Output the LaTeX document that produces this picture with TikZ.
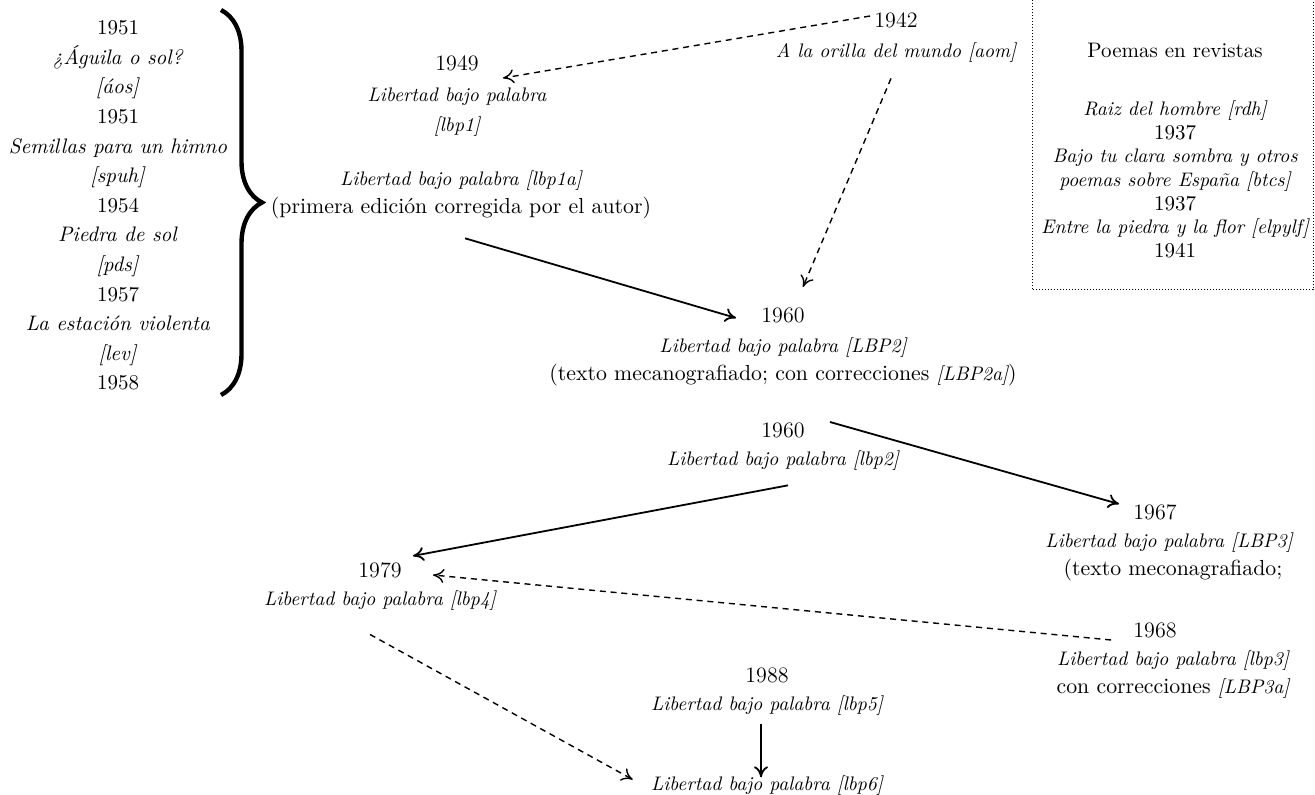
\documentclass[tikz,border=0pt]{standalone}
\usepackage{fontspec}
\usepackage{tikz}
\usetikzlibrary{positioning, decorations.pathreplacing, arrows.meta}

\newcommand{\titulo}[1]{{\fontsize{9.8}{14}\selectfont\itshape #1}}

\begin{document}
\begin{tikzpicture}[
x=0.5pt, y=-0.5pt,
anio/.style={inner sep=0pt,
  font=\fontsize{11}{14}\selectfont
},
obra/.style={inner sep=0pt,
  align=center,
  font=\fontsize{10.9}{14}\selectfont
},
flecha/.style={->, line width=0.9pt},
punteada/.style={->, line width=0.7pt, dash pattern=on 3pt off 2.4pt},
llave/.style={decorate, decoration={brace, amplitude=20.5pt}, line width=2.2pt},
marco/.style={line width=0.5pt, dash pattern=on 0.5pt off 1pt},
>={To[length=5.5pt,width=7pt]}
]
\useasboundingbox (0,0) rectangle (1315,795);

\node[inner sep=0pt, align=center, font=\fontsize{10.5}{14.8}\selectfont] (libros) at (118,205.5)
    {1951\\ \textit{¿Águila o sol?}\\ \textit{[áos]}\\ 1951\\ \textit{Semillas para un himno}\\ \textit{[spuh]}\\ 1954\\
     \textit{Piedra de sol}\\ \textit{[pds]}\\ 1957\\ \textit{La estación violenta}\\ \textit{[lev]}\\ 1958};
\draw[llave] (221,10) -- (221,395);

\node[anio] (a42) at (896,20)
    {1942};
\node[obra, below=7pt of a42] (aom)
    {\titulo{A la orilla del mundo [aom]}};

\node[anio] (a49) at (457,63)
    {1949};
\node[obra, below=8pt of a49] (lbp1)
    {\titulo{Libertad bajo palabra}\\[1pt] \titulo{[lbp1]}};
\node[obra, below=17pt of lbp1, xshift=2pt] (lbp1a)
    {\titulo{Libertad bajo palabra [lbp1a]}\\ (primera edición corregida por el autor)};

\node[anio] (a60) at (783,315)
    {1960};
\node[obra, below=7pt of a60] (LBP2)
    {\titulo{Libertad bajo palabra [LBP2]}\\ (texto mecanografiado; con correcciones \titulo{[LBP2a]})};

\node[anio] (b60) at (783,430)
    {1960};
\node[obra, below=6pt of b60] (lbp2)
    {\titulo{Libertad bajo palabra [lbp2]}};

\node[anio] (a67) at (1155,512)
    {1967};
\node[obra, below=6pt of a67, xshift=7pt] (LBP3)
    {\titulo{Libertad bajo palabra [LBP3]}\\ \hspace*{4pt}(texto meconagrafiado;};

\node[anio] (a68) at (1155,630)
    {1968};
\node[obra, below=6pt of a68, xshift=9pt] (lbp3)
    {\titulo{Libertad bajo palabra [lbp3]}\\ con correcciones \titulo{[LBP3a]}};

\node[anio] (a79) at (380,570)
    {1979};
\node[obra, below=6pt of a79] (lbp4)
    {\titulo{Libertad bajo palabra [lbp4]}};

\node[anio] (a88) at (767,675)
    {1988};
\node[obra, below=6pt of a88] (lbp5)
    {\titulo{Libertad bajo palabra [lbp5]}};
\node[obra, below=30pt of lbp5] (lbp6)
    {\titulo{Libertad bajo palabra [lbp6]}};

\node[inner sep=0pt, align=center, anchor=north, font=\fontsize{10.5}{11.85}\selectfont] (revistas) at (1175,43)
    {Poemas en revistas\\[17pt] \titulo{Raiz del hombre [rdh]}\\ 1937\\ \titulo{Bajo tu clara sombra y otros}\\
     \titulo{poemas sobre España [btcs]}\\ 1937\\ \titulo{Entre la piedra y la flor [elpylf]}\\ 1941};
\draw[marco] (1032,0) -- (1032,290) -- (1313,290) -- (1313,0);

\draw[punteada] ([xshift=-2pt,yshift=2pt]a42.west) -- ([xshift=12pt,yshift=-3.5pt]a49.south east);
\draw[punteada] ([xshift=-2.5pt,yshift=-8pt]aom.south) -- ([xshift=-1pt,yshift=10pt]a60.north east);
\draw[flecha] ([xshift=2pt,yshift=-9.5pt]lbp1a.south) -- ([xshift=-12.5pt,yshift=-1.5pt]a60.west);
\draw[flecha] ([xshift=12.5pt,yshift=4pt]b60.east) -- ([xshift=-7pt,yshift=4pt]a67.west);
\draw[flecha] ([xshift=2.5pt,yshift=-7.5pt]lbp2.south) -- ([xshift=5.5pt,yshift=3pt]a79.north east);
\draw[punteada] ([xshift=-11pt,yshift=-5pt]a68.west) -- ([xshift=15.5pt,yshift=-2.5pt]a79.east);
\draw[punteada] ([xshift=-5pt,yshift=-12pt]lbp4.south) -- ([xshift=-9pt,yshift=3pt]lbp6.west);
\draw[flecha] ([xshift=-3pt,yshift=-4.5pt]lbp5.south) -- ([xshift=-3pt,yshift=-1pt]lbp6.north);
\end{tikzpicture}
\end{document}
